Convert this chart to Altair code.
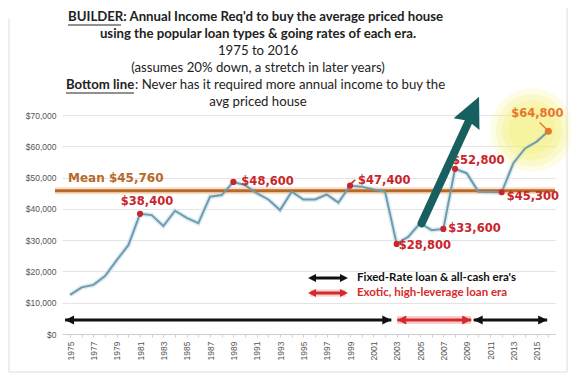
import altair as alt
import pandas as pd

# ---------------- data ----------------
years = list(range(1975, 2017))
income = [12500, 14900, 15700, 18500, 23600, 28400, 38400, 38000, 34500, 39400,
          37100, 35400, 43900, 44400, 48600, 47600, 45000, 43000, 39600, 45500,
          43000, 43000, 44600, 42000, 47400, 47100, 46200, 45500, 28800, 31100,
          35400, 33200, 33600, 52800, 51400, 45500, 45400, 45300, 54600, 59300,
          61500, 64800]
mean_value = 45760
label_years = [1981, 1989, 1999, 2003, 2007, 2008, 2012, 2016]
y_ticks = [0, 10000, 20000, 30000, 40000, 50000, 60000, 70000]

# era spans (years) and the big trend arrow (year, income)
era_fixed1 = [1974.57, 2002.54]
era_exotic = [2003.05, 2009.39]
era_fixed2 = [2009.60, 2015.90]
era_level = 4500
trend_tail = [2005.14, 35400]
trend_base = [2009.14, 67700]
trend_tip = [2010.06, 75800]
glow_center = [2014.6, 65200]
leader_1999 = [[1999.05, 47900], [1999.45, 49300]]
leader_2016 = [[2015.25, 67600], [2015.8, 65600]]

title_lines = [
    "BUILDER: Annual Income Req'd to buy the average priced house",
    "using the popular loan types & going rates of each era.",
    "1975 to 2016",
    "(assumes 20% down, a stretch in later years)",
    "Bottom line",
    ":  Never has it required more annual income to buy the",
    "avg priced house",
]
legend_texts = ["Fixed-Rate loan & all-cash era's", "Exotic, high-leverage loan era"]

# ---------------- setup ----------------
df = pd.DataFrame({"year": years, "income": income})
lab = df[df["year"].isin(label_years)].copy()
lab["text"] = lab["income"].map(lambda v: "${:,.0f}".format(v))

W, H = 493, 219
xs = alt.Scale(domain=[1974.31, 2016.57], nice=False, zero=False)
ys = alt.Scale(domain=[0, 70000], nice=False)
one = pd.DataFrame({"k": [0]})

x_axis = alt.Axis(values=years, format="d", labelAngle=270,
                  labelExpr="datum.value % 2 == 1 ? datum.label : ''",
                  labelFontSize=8.5, labelColor="#555", labelFont="Liberation Sans",
                  labelPadding=4, domainColor="#d0d0d0", tickColor="#d0d0d0",
                  tickSize=3, grid=False, title=None, labelOverlap=False)
y_axis = alt.Axis(values=y_ticks, format="$,.0f", labelFontSize=8.5,
                  labelColor="#555", labelFont="Liberation Sans", labelPadding=6,
                  ticks=False, domain=False, grid=True, gridColor="#e4e4e4",
                  title=None)

RED = "#C9252C"
ORANGE = "#E8772E"
MEAN_C = "#B8692A"
LINE_C = "#6D9BB0"
TEAL = "#17605F"
TXT = "#222222"
TFONT = "Lato"
LFONT = "DejaVu Sans"

def X(f="year"):
    return alt.X(f, type="quantitative", scale=xs, axis=x_axis)

def Y(f="income"):
    return alt.Y(f, type="quantitative", scale=ys, axis=y_axis)

layers = []

# frame
frame_c = "#dcdcdc"
layers.append(alt.Chart(one).mark_rule(color=frame_c, strokeWidth=1).encode(
    x=alt.value(-53), x2=alt.value(505), y=alt.value(257)))
layers.append(alt.Chart(one).mark_rule(color=frame_c, strokeWidth=1).encode(
    x=alt.value(505), y=alt.value(-107), y2=alt.value(257)))
layers.append(alt.Chart(one).mark_rule(color=frame_c, strokeWidth=1).encode(
    x=alt.value(-53), y=alt.value(-96), y2=alt.value(257)))

# line halo (also carries axes)
layers.append(alt.Chart(df).mark_line(color="#D6E7EF", strokeWidth=5, opacity=0.8).encode(
    x=X(), y=Y()))

# yellow glow
gdf = pd.DataFrame({"year": [glow_center[0]], "income": [glow_center[1]]})
for s, op in [(7000, 0.2), (5200, 0.25), (3600, 0.3), (2200, 0.3)]:
    layers.append(alt.Chart(gdf).mark_point(shape="circle", filled=True, size=s,
                                            color="#F4F07C", opacity=op).encode(x=X(), y=Y()))

# mean line
mdf = pd.DataFrame({"income": [mean_value]})
layers.append(alt.Chart(mdf).mark_rule(color="#F3C9A2", strokeWidth=7, opacity=0.6).encode(
    x=alt.value(-7), x2=alt.value(W), y=Y()))
layers.append(alt.Chart(mdf).mark_rule(color=MEAN_C, strokeWidth=3).encode(
    x=alt.value(-7), x2=alt.value(W), y=Y()))
layers.append(alt.Chart(mdf).mark_text(text="Mean ${:,.0f}".format(mean_value), align="left",
                                       baseline="middle", dx=0, dy=-13, font=LFONT,
                                       fontWeight="bold", fontSize=12, color=MEAN_C).encode(
    x=alt.value(6), y=Y()))

# main line
layers.append(alt.Chart(df).mark_line(color=LINE_C, strokeWidth=2).encode(x=X(), y=Y()))

# leaders
for (p, q), col in [(leader_1999, RED), (leader_2016, ORANGE)]:
    ld = pd.DataFrame({"x1": [p[0]], "y1": [p[1]], "x2": [q[0]], "y2": [q[1]]})
    layers.append(alt.Chart(ld).mark_rule(color=col, strokeWidth=1.5).encode(
        x=X("x1"), y=Y("y1"), x2="x2:Q", y2="y2:Q"))

# dots + labels
red_lab = lab[lab["year"] != 2016]
org_lab = lab[lab["year"] == 2016]
layers.append(alt.Chart(red_lab).mark_point(shape="circle", filled=True, size=38,
                                            color=RED, opacity=1).encode(x=X(), y=Y()))
layers.append(alt.Chart(org_lab).mark_point(shape="circle", filled=True, size=50,
                                            color=ORANGE, opacity=1).encode(x=X(), y=Y()))

offsets = {1981: (7, -12, "center"), 1989: (8, 0, "left"), 1999: (8, -5, "left"),
           2003: (2, 2, "left"), 2007: (5, 0, "left"), 2008: (-3, -8, "left"),
           2012: (5, 5, "left"), 2016: (-11, -17, "center")}
for yr, (dx, dy, al) in offsets.items():
    sub = lab[lab["year"] == yr]
    layers.append(alt.Chart(sub).mark_text(align=al, baseline="middle", dx=dx, dy=dy,
                                           font=LFONT, fontWeight="bold", fontSize=11.5,
                                           color=ORANGE if yr == 2016 else RED).encode(
        x=X(), y=Y(), text="text:N"))

# era arrows
def era_arrow(span, color, glow=False):
    d = pd.DataFrame({"x1": [span[0]], "x2": [span[1]], "income": [era_level]})
    out = []
    if glow:
        out.append(alt.Chart(d).mark_rule(color="#F4AFAF", strokeWidth=8, opacity=0.6).encode(
            x=X("x1"), x2="x2:Q", y=Y()))
    out.append(alt.Chart(d).mark_rule(color=color, strokeWidth=3).encode(
        x=X("x1"), x2="x2:Q", y=Y()))
    out.append(alt.Chart(d).mark_point(shape="M0,0L2,-1L2,1Z", filled=True, size=81,
                                       color=color, opacity=1).encode(x=X("x1"), y=Y()))
    out.append(alt.Chart(d).mark_point(shape="M0,0L-2,-1L-2,1Z", filled=True, size=81,
                                       color=color, opacity=1).encode(x=X("x2"), y=Y()))
    return out

layers += era_arrow(era_fixed1, "#111111")
layers += era_arrow(era_exotic, "#D42A2A", glow=True)
layers += era_arrow(era_fixed2, "#111111")

# legend (inside plot)
for i, (col, txt) in enumerate([("#111111", legend_texts[0]), ("#D42A2A", legend_texts[1])]):
    yy = 163 + 15 * i
    if i == 1:
        layers.append(alt.Chart(one).mark_rule(color="#F4AFAF", strokeWidth=7, opacity=0.6).encode(
            x=alt.value(248), x2=alt.value(284), y=alt.value(yy)))
    layers.append(alt.Chart(one).mark_rule(color=col, strokeWidth=3).encode(
        x=alt.value(250), x2=alt.value(282), y=alt.value(yy)))
    layers.append(alt.Chart(one).mark_point(shape="M0,0L2,-1L2,1Z", filled=True, size=64,
                                            color=col, opacity=1).encode(
        x=alt.value(246), y=alt.value(yy)))
    layers.append(alt.Chart(one).mark_point(shape="M0,0L-2,-1L-2,1Z", filled=True, size=64,
                                            color=col, opacity=1).encode(
        x=alt.value(286), y=alt.value(yy)))
    layers.append(alt.Chart(one).mark_text(text=txt, align="left", baseline="middle",
                                           font=TFONT, fontWeight="bold", fontSize=11.5,
                                           color=col).encode(
        x=alt.value(295), y=alt.value(yy)))

# teal trend arrow
tdf = pd.DataFrame({"x1": [trend_tail[0]], "y1": [trend_tail[1]],
                    "x2": [trend_base[0]], "y2": [trend_base[1]]})
layers.append(alt.Chart(tdf).mark_rule(color="#9aa5a5", strokeWidth=8, opacity=0.35,
                                       strokeCap="round").encode(
    x=X("x1"), y=Y("y1"), x2="x2:Q", y2="y2:Q"))
layers.append(alt.Chart(tdf).mark_rule(color=TEAL, strokeWidth=8, strokeCap="round").encode(
    x=X("x1"), y=Y("y1"), x2="x2:Q", y2="y2:Q"))
hdf = pd.DataFrame({"year": [trend_tip[0]], "income": [trend_tip[1]]})
layers.append(alt.Chart(hdf).mark_point(shape="M0,0L-0.95,2L0,1.75L0.95,2Z", filled=True, size=900,
                                        angle=24.7, color=TEAL, opacity=1).encode(x=X(), y=Y()))

# title block
TS = 13.2
def ttext(txt, x, y, align="center", bold=False):
    return alt.Chart(one).mark_text(text=txt, align=align, baseline="middle", font=TFONT,
                                    fontSize=TS, fontWeight="bold" if bold else "normal",
                                    color=TXT).encode(x=alt.value(x), y=alt.value(y))

layers.append(ttext(title_lines[0], 6, -98, align="left", bold=True))
layers.append(ttext(title_lines[1], 196, -81, bold=True))
layers.append(ttext(title_lines[2], 196, -64))
layers.append(ttext(title_lines[3], 196, -47))
layers.append(ttext(title_lines[4], 4, -30, align="left", bold=True))
layers.append(ttext(title_lines[5], 73, -30, align="left"))
layers.append(ttext(title_lines[6], 196, -13))
# underlines
layers.append(alt.Chart(one).mark_rule(color=TXT, strokeWidth=1).encode(
    x=alt.value(6), x2=alt.value(59), y=alt.value(-90)))
layers.append(alt.Chart(one).mark_rule(color=TXT, strokeWidth=1).encode(
    x=alt.value(4), x2=alt.value(72), y=alt.value(-22)))

chart = alt.layer(*layers).properties(
    width=W, height=H,
    autosize=alt.AutoSizeParams(type="none"),
    padding={"left": 54, "top": 107, "right": 15, "bottom": 46},
    background="white",
).configure_view(stroke=None)

chart.save("out.html", embed_options={"renderer": "svg", "actions": False})
